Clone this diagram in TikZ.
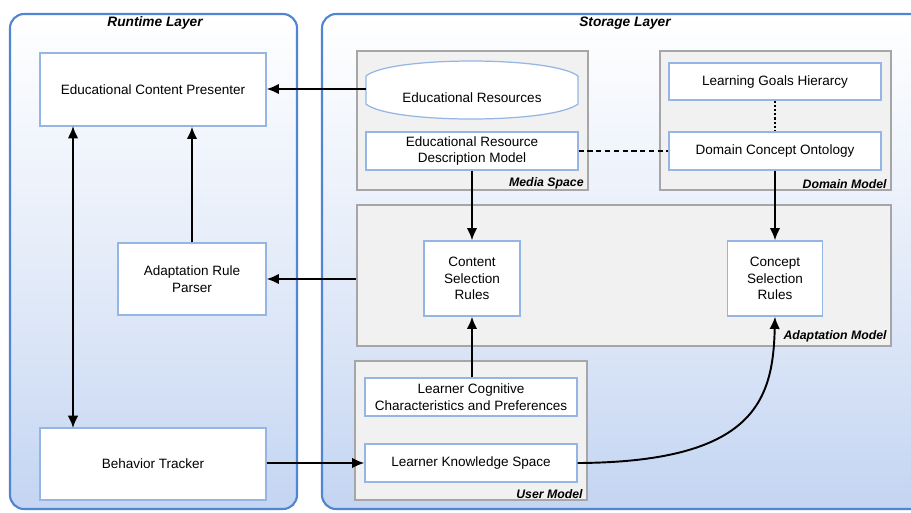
\documentclass[tikz,border=0pt]{standalone}
\usepackage{fontspec}
\setmainfont{Liberation Sans}
\usetikzlibrary{arrows.meta}
\definecolor{layerborder}{HTML}{4F85D2}
\definecolor{layerbottom}{HTML}{C4D5F2}
\definecolor{inborder}{HTML}{95B5E5}
\definecolor{grayfill}{HTML}{F1F1F1}
\definecolor{grayborder}{HTML}{A6A6A6}
\begin{document}
\begin{tikzpicture}[x=0.02cm,y=-0.02cm,
  sz/.style 2 args={minimum width=#1*0.02cm,minimum height=#2*0.02cm},
  layer/.style={draw=layerborder,line width=1.2pt,rounded corners=8pt,top color=white,bottom color=layerbottom,middle color=white!55!layerbottom},
  grp/.style={draw=grayborder,fill=grayfill,line width=0.6pt,inner sep=0pt},
  inbox/.style={draw=inborder,fill=white,line width=0.7pt,inner sep=0pt,align=center,font=\fontsize{7.7}{9.4}\selectfont},
  ttl/.style={font=\fontsize{7.8}{9}\selectfont\bfseries\itshape},
  lab/.style={font=\fontsize{7}{9}\selectfont\bfseries\itshape,inner sep=0pt},
  arr/.style={line width=1.1pt,-{Latex[length=7pt,width=6pt]}},
  darr/.style={line width=1.1pt,{Latex[length=7pt,width=6pt]}-{Latex[length=7pt,width=6pt]}}]
\useasboundingbox (0,0) rectangle (911,512);
\clip (0,0) rectangle (911,512);
% layers
\path[layer] (10,14) rectangle (297,509);
\path[layer] (322,14) rectangle (940,509);
\node[ttl] (rtl) at (155,23) {Runtime Layer};
\node[ttl] (stl) at (625,23) {Storage Layer};
% group boxes
\node[grp,sz={231}{139}] (ms) at (472.5,120.5) {};
\node[grp,sz={231}{139}] (dm) at (775.5,120.5) {};
\node[grp,sz={534}{141}] (am) at (624,275.5) {};
\node[grp,sz={232}{139}] (um) at (471,430.5) {};
\node[lab,anchor=south east] (msl) at (584,189) {Media Space};
\node[lab,anchor=south east] (dml) at (887,189) {Domain Model};
\node[lab,anchor=south east] (aml) at (887,342) {Adaptation Model};
\node[lab,anchor=south east] (uml) at (583,499) {User Model};
% runtime nodes
\node[inbox,sz={226}{73}] (ecp) at (153,89.5) {Educational Content Presenter};
\node[inbox,sz={148}{72}] (arp) at (192,279) {Adaptation Rule\\Parser};
\node[inbox,sz={226}{72}] (bt) at (153,464) {Behavior Tracker};
% cylinder
\draw[inborder,fill=white,line width=0.7pt] (366,76) .. controls (390,56) and (552,56) .. (578,76)
  -- (578,104) .. controls (552,124) and (390,124) .. (366,104) -- cycle;
\node[inner sep=0pt,sz={212}{60}] (er) at (472,89) {};
\node[inner sep=0pt,font=\fontsize{7.7}{9.4}\selectfont] (ert) at (472,98) {Educational Resources};
\node[inbox,sz={212}{38}] (erdm) at (472,151) {Educational Resource\\Description Model};
\node[inbox,sz={212}{37}] (lgh) at (775,81.5) {Learning Goals Hierarcy};
\node[inbox,sz={212}{38}] (dco) at (775,151) {Domain Concept Ontology};
\node[inbox,sz={96}{75}] (csr) at (472,278.5) {Content\\Selection\\Rules};
\node[inbox,sz={95}{75}] (cosr) at (775,278.5) {Concept\\Selection\\Rules};
\node[inbox,sz={212}{38}] (lccp) at (471,397) {Learner Cognitive\\Characteristics and Preferences};
\node[inbox,sz={212}{38}] (lks) at (471,463) {Learner Knowledge Space};
% connectors
\draw[arr] (er.west) -- (ecp.east |- er.west);
\draw[arr] (erdm.south) -- (csr.north);
\draw[arr] (dco.south) -- (cosr.north);
\draw[arr] (lccp.north -| csr.south) -- (csr.south);
\draw[arr] (lks.east) .. controls (755,462) and (773,400) .. (cosr.south);
\draw[arr] (bt.east |- lks.west) -- (lks.west);
\draw[arr] (am.west |- arp.east) -- (arp.east);
\draw[arr] (arp.north) -- (arp.north |- ecp.south);
\draw[darr] (73,126) -- (73,428);
\draw[line width=0.7pt,dash pattern=on 3pt off 2pt] (erdm.east) -- (dco.west);
\draw[line width=0.8pt,dash pattern=on 1.2pt off 1.2pt] (lgh.south) -- (dco.north);
\end{tikzpicture}
\end{document}
